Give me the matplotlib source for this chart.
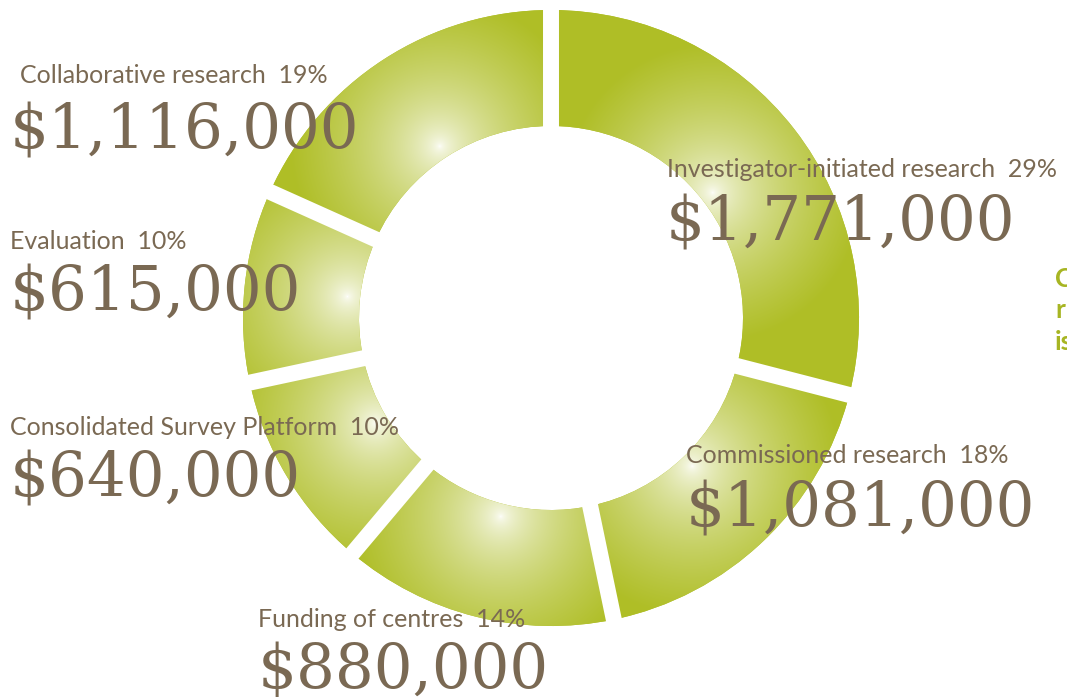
import numpy as np
import matplotlib
matplotlib.use("Agg")
import matplotlib.pyplot as plt

# ---- data ----
categories = ["Investigator-initiated research", "Commissioned research",
              "Funding of centres", "Consolidated Survey Platform",
              "Evaluation", "Collaborative research"]
amounts = [1771000, 1081000, 880000, 640000, 615000, 1116000]
percent_labels = ["29%", "18%", "14%", "10%", "10%", "19%"]
side_text = ["C", "r", "is"]

# ---- style ----
W, H = 1067, 697
GREEN = np.array([175, 190, 38]) / 255.0
BROWN = "#7A6953"
OLIVE_TEXT = "#A7B523"
cx, cy = 551, H - 318
R_OUT, R_IN = 308, 192

# label anchor positions (image px: label x, label baseline, number x, number baseline)
label_pos = {
    "Investigator-initiated research": (667, 177, 666, 240),
    "Commissioned research": (686, 463, 686, 527),
    "Funding of centres": (258, 627, 258, 688),
    "Consolidated Survey Platform": (10, 435, 10, 497),
    "Evaluation": (10, 249, 10, 311),
    "Collaborative research": (20, 83, 10, 148),
}

fig = plt.figure(figsize=(W / 100, H / 100), dpi=100)
ax = fig.add_axes([0, 0, 1, 1])

wedges, _ = ax.pie(amounts, center=(cx, cy), radius=R_OUT, startangle=90,
                   counterclock=False, frame=True,
                   wedgeprops=dict(width=R_OUT - R_IN, facecolor=GREEN,
                                   edgecolor="none"))
ax.set_xlim(0, W)
ax.set_ylim(0, H)
ax.set_aspect("equal")
ax.axis("off")

# radial gradient highlight inside each wedge
ext = [cx - R_OUT - 2, cx + R_OUT + 2, cy - R_OUT - 2, cy + R_OUT + 2]
n = int(ext[1] - ext[0])
xs = np.linspace(ext[0], ext[1], n)
ys = np.linspace(ext[2], ext[3], n)
X, Y = np.meshgrid(xs, ys)
for w in wedges:
    mid = np.deg2rad((w.theta1 + w.theta2) / 2)
    hx = cx + 205 * np.cos(mid)
    hy = cy + 205 * np.sin(mid)
    d = np.hypot(X - hx, Y - hy)
    f = np.clip(d / 150.0, 0, 1) ** 0.55
    img = np.ones((n, n, 3)) * (1 - f[..., None]) + GREEN * f[..., None]
    im = ax.imshow(img, extent=ext, origin="lower", zorder=2,
                   interpolation="bilinear")
    im.set_clip_path(w)

# white gaps between wedges
for w in wedges:
    a = np.deg2rad(w.theta1)
    ax.plot([cx + (R_IN - 10) * np.cos(a), cx + (R_OUT + 10) * np.cos(a)],
            [cy + (R_IN - 10) * np.sin(a), cy + (R_OUT + 10) * np.sin(a)],
            color="white", lw=11.5, solid_capstyle="butt", zorder=3)

ax.set_xlim(0, W)
ax.set_ylim(0, H)

# labels
for cat, amt, pct in zip(categories, amounts, percent_labels):
    lx, lb, nx, nb = label_pos[cat]
    ax.text(lx, H - lb, f"{cat}  {pct}", fontsize=18, family="Lato",
            color=BROWN, ha="left", va="baseline", zorder=5)
    ax.text(nx, H - nb, f"${amt:,.0f}", fontsize=44, family="DejaVu Serif",
            color=BROWN, ha="left", va="baseline", zorder=5)

for t, b in zip(side_text, [287, 318, 350]):
    ax.text(1055, H - b, t, fontsize=19, family="Lato", fontweight="bold",
            color=OLIVE_TEXT, ha="left", va="baseline", zorder=5)

fig.savefig("out.png", dpi=100)
